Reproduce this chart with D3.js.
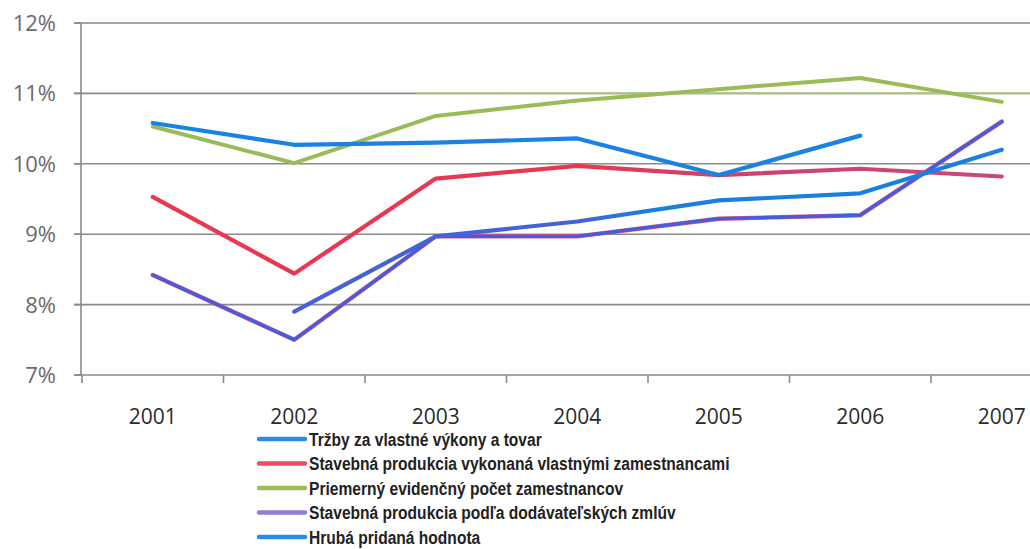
<!DOCTYPE html>
<html><head><meta charset="utf-8">
<script src="https://cdn.jsdelivr.net/npm/d3@7"></script>
<style>
html,body{margin:0;padding:0;background:#fff;}
svg{display:block;}
</style></head>
<body>
<svg id="c" width="1030" height="549"></svg>
<script>
const years = ["2001","2002","2003","2004","2005","2006","2007"];
const yTicks = [7,8,9,10,11,12];
const names = [
  "Tržby za vlastné výkony a tovar",
  "Stavebná produkcia vykonaná vlastnými zamestnancami",
  "Priemerný evidenčný počet zamestnancov",
  "Stavebná produkcia podľa dodávateľských zmlúv",
  "Hrubá pridaná hodnota"
];
const trzby      = [10.58, 10.27, 10.30, 10.36, 9.84, 10.40, null];
const vlastne    = [9.53, 8.44, 9.79, 9.97, 9.84, 9.93, 9.82];
const zamestnanci= [10.53, 10.01, 10.68, 10.90, 11.06, 11.22, 10.88];
const zmluvy     = [8.42, 7.50, 8.97, 8.97, 9.22, 9.27, 10.60];
const hph        = [null, 7.90, 8.97, 9.18, 9.48, 9.58, 10.20];
const legendColors = ["#2a8be6","#ee4c62","#9bbb59","#8a7fd4","#2a8be6"];

const svg = d3.select("#c");
const x = d3.scaleBand().domain(years).range([82, 1072.5]).padding(0);
const cx = d => x(d) + x.bandwidth()/2;
const y = d3.scaleLinear().domain([7,12]).range([375, 23]);

// gradients
const defs = svg.append("defs");
function grad(id, stops){
  const g = defs.append("linearGradient").attr("id", id)
    .attr("gradientUnits","userSpaceOnUse")
    .attr("x1", 0).attr("x2", 1030).attr("y1",0).attr("y2",0);
  stops.forEach(s => g.append("stop").attr("offset", s[0]/1030).attr("stop-color", s[1]));
}
grad("gRed", [[cx("2004"),"#e8384f"],[cx("2005"),"#d0406e"],[1030,"#c84a78"]]);
grad("gHph", [[cx("2004"),"#4563d6"],[(cx("2004")+cx("2005"))/2,"#1a80e0"],[1030,"#1a80e0"]]);

// gridlines
svg.append("g").selectAll("line").data(yTicks.slice(1)).join("line")
  .attr("x1", 74).attr("x2", 1030)
  .attr("y1", d => y(d)).attr("y2", d => y(d))
  .attr("stroke", "#8a8a8a").attr("stroke-width", 1.6);
// green artefact on 11% line
svg.append("line").attr("x1", cx("2003")-20).attr("x2", 1030)
  .attr("y1", y(11)).attr("y2", y(11))
  .attr("stroke", "#a9c56e").attr("stroke-width", 1.6);

// y axis
svg.append("line").attr("x1", 81).attr("x2", 81).attr("y1", y(12)).attr("y2", y(7))
  .attr("stroke", "#8a8a8a").attr("stroke-width", 1.6);
svg.append("g").selectAll("line").data(yTicks).join("line")
  .attr("x1", 74).attr("x2", 81).attr("y1", d => y(d)).attr("y2", d => y(d))
  .attr("stroke", "#8a8a8a").attr("stroke-width", 1.6);
svg.append("g").selectAll("text").data(yTicks).join("text")
  .attr("x", 56).attr("y", d => y(d)).attr("dy", "0.36em")
  .attr("text-anchor", "end")
  .attr("font-family", "Open Sans, sans-serif").attr("font-size", 22)
  .attr("fill", "#6a6a6a").text(d => d + "%");

// x axis
svg.append("line").attr("x1", 74).attr("x2", 1030).attr("y1", y(7)).attr("y2", y(7))
  .attr("stroke", "#8a8a8a").attr("stroke-width", 1.6);
svg.append("g").selectAll("line").data(years).join("line")
  .attr("x1", d => x(d)).attr("x2", d => x(d)).attr("y1", y(7)).attr("y2", y(7)+8)
  .attr("stroke", "#8a8a8a").attr("stroke-width", 1.6);
svg.append("g").selectAll("text").data(years).join("text")
  .attr("x", d => cx(d)).attr("y", 416).attr("dy", "0.36em")
  .attr("text-anchor", "middle")
  .attr("font-family", "Open Sans, sans-serif").attr("font-size", 21)
  .attr("fill", "#2b2b2b").text(d => d);

// lines
const line = d3.line().defined(d => d[1] != null)
  .x(d => cx(d[0])).y(d => y(d[1]));
const pts = arr => years.map((yr,i) => [yr, arr[i]]);
function draw(arr, color, w){
  svg.append("path").datum(pts(arr)).attr("d", line)
    .attr("fill","none").attr("stroke", color).attr("stroke-width", w)
    .attr("stroke-linejoin","round").attr("stroke-linecap","round");
}
draw(zamestnanci, "#9bbb59", 4);
draw(vlastne, "url(#gRed)", 4.2);
draw(zmluvy, "#e0567e", 4.4);
draw(zmluvy, "#405ee0", 3.2);
draw(hph, "url(#gHph)", 4.2);
draw(trzby, "#1a82e2", 4.2);

// legend
const lg = svg.append("g");
names.forEach((n,i) => {
  const yy = 439 + i*24.5;
  lg.append("line").attr("x1", 259).attr("x2", 305).attr("y1", yy).attr("y2", yy)
    .attr("stroke", legendColors[i]).attr("stroke-width", 4.5).attr("stroke-linecap","round");
  lg.append("text").attr("transform", `translate(309,${yy}) scale(0.82,1)`)
    .attr("dy", "0.36em")
    .attr("font-family", "Liberation Sans Narrow, Arial Narrow, sans-serif")
    .attr("font-weight", "bold").attr("font-size", 19)
    .attr("fill", "#222").text(n);
});
</script>
</body></html>
